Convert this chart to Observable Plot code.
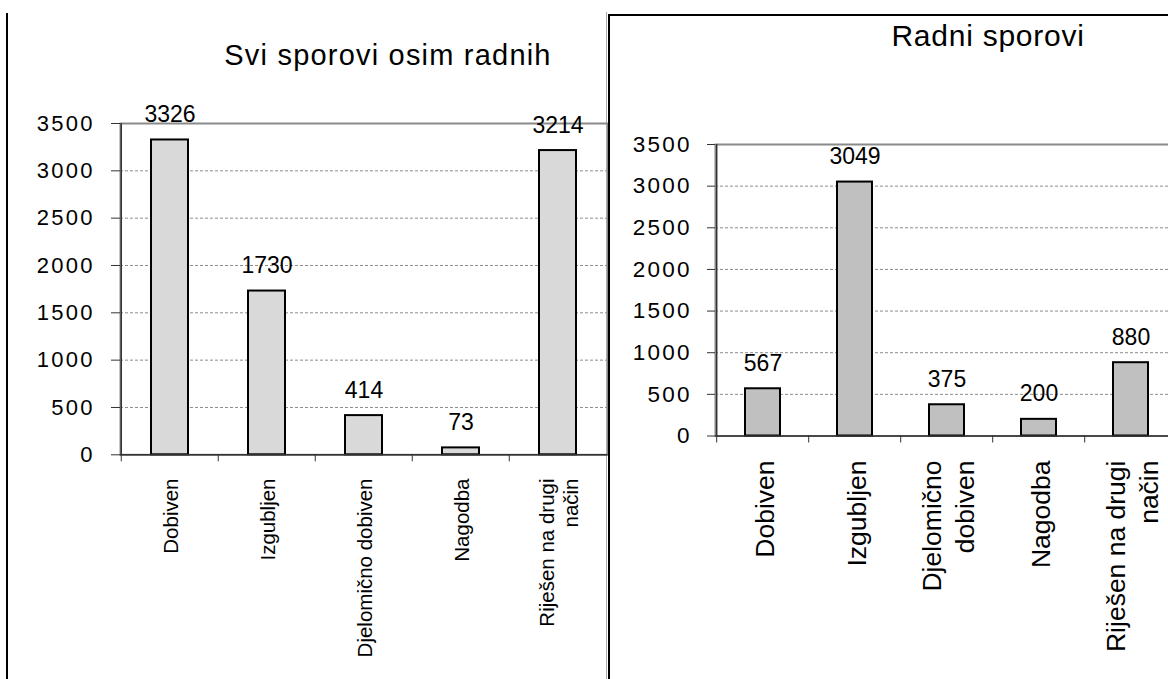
<!DOCTYPE html>
<html><head><meta charset="utf-8">
<script src="https://cdn.jsdelivr.net/npm/d3@7"></script>
<script src="https://cdn.jsdelivr.net/npm/@observablehq/plot@0.6"></script>
<style>
html,body{margin:0;padding:0;background:#fff;}
body{width:1168px;height:679px;overflow:hidden;position:relative;font-family:"Liberation Sans",Arial,sans-serif;}
#left{position:absolute;left:0;top:0;}
#right{position:absolute;left:608px;top:14px;width:600px;height:700px;border-left:2px solid #000;border-top:2px solid #000;background:#fff;}
#rightplot{position:absolute;left:0;top:0;}
.ttl{position:absolute;text-align:center;white-space:nowrap;color:#000;}
#lt{left:0;width:776px;top:41.2px;font-size:29px;line-height:29px;letter-spacing:1.2px;}
#rt{left:278px;width:200px;top:5.3px;font-size:30px;line-height:30px;letter-spacing:0.75px;}
#lline{position:absolute;left:6px;top:13px;height:680px;border-left:2px solid #000;}
#rline{position:absolute;left:606px;top:12px;height:680px;border-left:1px solid #aaa;}
g[aria-label="y-axis tick label"] text{letter-spacing:2.3px}
g[aria-label="value label"] text{letter-spacing:2px}
</style>
</head>
<body>
<div id="rline"></div>
<div id="left"></div>
<div class="ttl" id="lt"></div>
<div id="lline"></div>
<div id="right"><div id="rightplot"></div><div class="ttl" id="rt"></div></div>
<script>
const categories = ["Dobiven", "Izgubljen", "Djelomično dobiven", "Nagodba", "Riješen na drugi način"];
const leftLabels = ["Dobiven", "Izgubljen", "Djelomično dobiven", "Nagodba", "Riješen na drugi\nnačin"];
const rightLabels = ["Dobiven", "Izgubljen", "Djelomično\ndobiven", "Nagodba", "Riješen na drugi\nnačin"];
const leftValues = [3326, 1730, 414, 73, 3214];
const rightValues = [567, 3049, 375, 200, 880];
const yTicks = [0, 500, 1000, 1500, 2000, 2500, 3000, 3500];
const gridTicks = [500, 1000, 1500, 2000, 2500, 3000];
const leftTitle = "Svi sporovi osim radnih";
const rightTitle = "Radni sporovi";

const FONT = '"Liberation Sans", Arial, sans-serif';

function chart(cfg) {
  const data = categories.map((c, i) => ({cat: c, label: cfg.labels[i], value: cfg.values[i]}));
  const step = (cfg.width - cfg.ml - cfg.mr) / categories.length;
  return Plot.plot({
    width: cfg.width,
    height: cfg.height,
    marginLeft: cfg.ml,
    marginRight: cfg.mr,
    marginTop: cfg.mt,
    marginBottom: cfg.mb,
    style: {fontFamily: FONT, background: "transparent", overflow: "visible", color: "#000"},
    x: {domain: categories, paddingInner: 0.62, paddingOuter: 0.31},
    y: {domain: [0, 3500]},
    marks: [
      Plot.frame({stroke: "#8a8a8a", strokeWidth: 2}),
      Plot.gridY(gridTicks, {stroke: "#8c8c8c", strokeOpacity: 1, strokeWidth: 1, strokeDasharray: "3,2"}),
      Plot.barY(data, {x: "cat", y: "value", fill: cfg.fill, stroke: "#000", strokeWidth: 2}),
      Plot.ruleY([0], {stroke: "#333", strokeWidth: 1.5}),
      Plot.ruleX([categories[0]], {dx: -step / 2, y1: 0, y2: 3500, stroke: "#333", strokeWidth: 1.5}),
      Plot.axisY(yTicks, {tickSize: cfg.ytick, tickPadding: cfg.ypad, fontSize: cfg.yfs, stroke: "#333",
        label: null, tickFormat: d => String(d)}),
      Plot.axisX({tickSize: 7, dx: -step / 2, tickFormat: () => "", label: null, stroke: "#333"}),
      Plot.text(data, {x: "cat", y: "value", text: d => String(d.value), dy: -18, lineAnchor: "bottom",
        fontSize: cfg.vfs, fill: "#000", ariaLabel: "value label"}),
      Plot.text(data, {x: "cat", text: "label", frameAnchor: "bottom", dy: cfg.xdy, rotate: -90,
        textAnchor: "end", lineAnchor: "middle", lineHeight: cfg.lh, fontSize: cfg.xfs, fill: "#000",
        ariaLabel: "x label"})
    ]
  });
}

function centerLines(svg) {
  svg.querySelectorAll('g[aria-label="x label"] text').forEach(t => {
    const spans = t.querySelectorAll("tspan");
    if (spans.length < 2) return;
    const L = Math.max(...Array.from(spans).map(s => s.getComputedTextLength()));
    t.setAttribute("text-anchor", "middle");
    spans.forEach(s => s.setAttribute("x", -L / 2));
  });
}

const left = chart({
  labels: leftLabels, values: leftValues, fill: "#d9d9d9",
  width: 609, height: 679, ml: 120, mr: 1.5, mt: 123, mb: 224.7,
  ytick: 9, ypad: 16.6, yfs: 22, vfs: 23, xfs: 20.5, xdy: 23.7, lh: 1.17
});
document.getElementById("left").appendChild(left);
centerLines(left);

const right = chart({
  labels: rightLabels, values: rightValues, fill: "#c0c0c0",
  width: 573, height: 664, ml: 105, mr: 5, mt: 128, mb: 244.5,
  ytick: 8, ypad: 15.6, yfs: 22.5, vfs: 23, xfs: 26.5, xdy: 24.5, lh: 1.24
});
document.getElementById("rightplot").appendChild(right);
centerLines(right);

document.getElementById("lt").textContent = leftTitle;
document.getElementById("rt").textContent = rightTitle;
</script>
</body></html>
